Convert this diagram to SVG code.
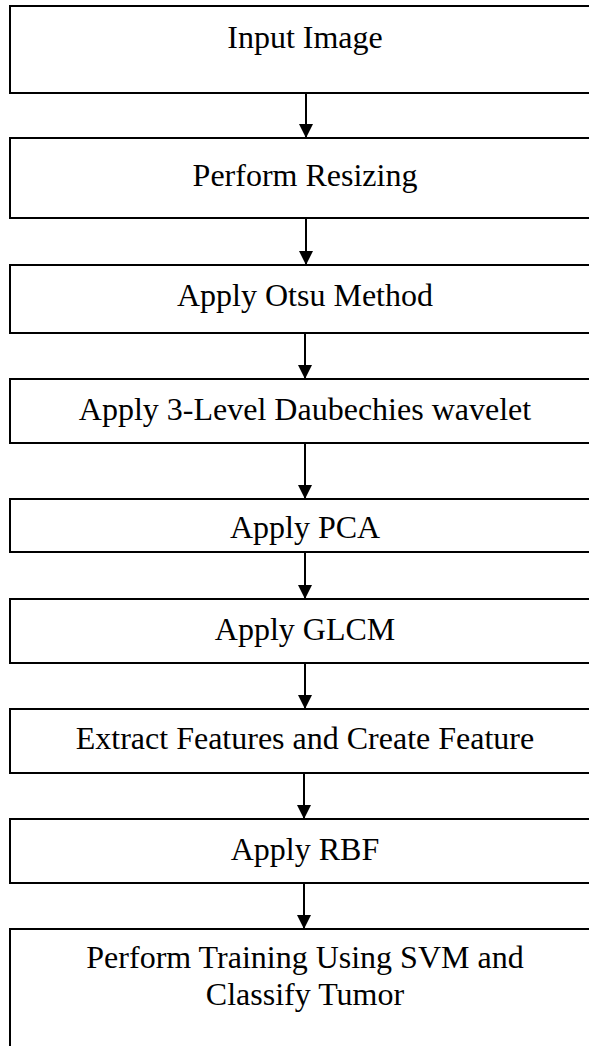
<svg xmlns="http://www.w3.org/2000/svg" width="589" height="1046" viewBox="0 0 589 1046">
<style>
.box{fill:#fff;stroke:#000;stroke-width:2}
.t{font-family:"Liberation Serif","Times New Roman",serif;font-size:32px;fill:#000;text-anchor:middle}
.c{stroke:#000;stroke-width:2;fill:none;marker-end:url(#ah)}
</style>
<defs>
<marker id="ah" markerWidth="14" markerHeight="14" refX="13" refY="7" orient="auto" markerUnits="userSpaceOnUse">
<path d="M0,0 L14,7 L0,14 Z" fill="#000"/>
</marker>
</defs>
<rect width="589" height="1046" fill="#fff"/>
<g id="n1"><rect class="box" x="10" y="6" width="590" height="87"/><text class="t" x="305" y="48">Input Image</text></g>
<g id="n2"><rect class="box" x="10" y="138" width="590" height="80"/><text class="t" x="305" y="186">Perform Resizing</text></g>
<g id="n3"><rect class="box" x="10" y="265" width="590" height="68"/><text class="t" x="305" y="306">Apply Otsu Method</text></g>
<g id="n4"><rect class="box" x="10" y="379" width="590" height="64"/><text class="t" x="305" y="420">Apply 3-Level Daubechies wavelet</text></g>
<g id="n5"><rect class="box" x="10" y="499" width="590" height="53"/><text class="t" x="305" y="538">Apply PCA</text></g>
<g id="n6"><rect class="box" x="10" y="599" width="590" height="64"/><text class="t" x="305" y="640">Apply GLCM</text></g>
<g id="n7"><rect class="box" x="10" y="709" width="590" height="64"/><text class="t" x="305" y="749">Extract Features and Create Feature</text></g>
<g id="n8"><rect class="box" x="10" y="819" width="590" height="64"/><text class="t" x="305" y="860">Apply RBF</text></g>
<g id="n9"><rect class="box" x="10" y="929" width="590" height="140"/><text class="t" x="305" y="968">Perform Training Using SVM and</text><text class="t" x="305" y="1005">Classify Tumor</text></g>
<g id="connectors">
<line class="c" x1="306" y1="93" x2="306" y2="137"/>
<line class="c" x1="306" y1="218" x2="306" y2="264"/>
<line class="c" x1="305" y1="333" x2="305" y2="378"/>
<line class="c" x1="305" y1="443" x2="305" y2="498"/>
<line class="c" x1="305" y1="552" x2="305" y2="598"/>
<line class="c" x1="305" y1="663" x2="305" y2="708"/>
<line class="c" x1="304" y1="773" x2="304" y2="818"/>
<line class="c" x1="304" y1="883" x2="304" y2="928"/>
</g>
</svg>
